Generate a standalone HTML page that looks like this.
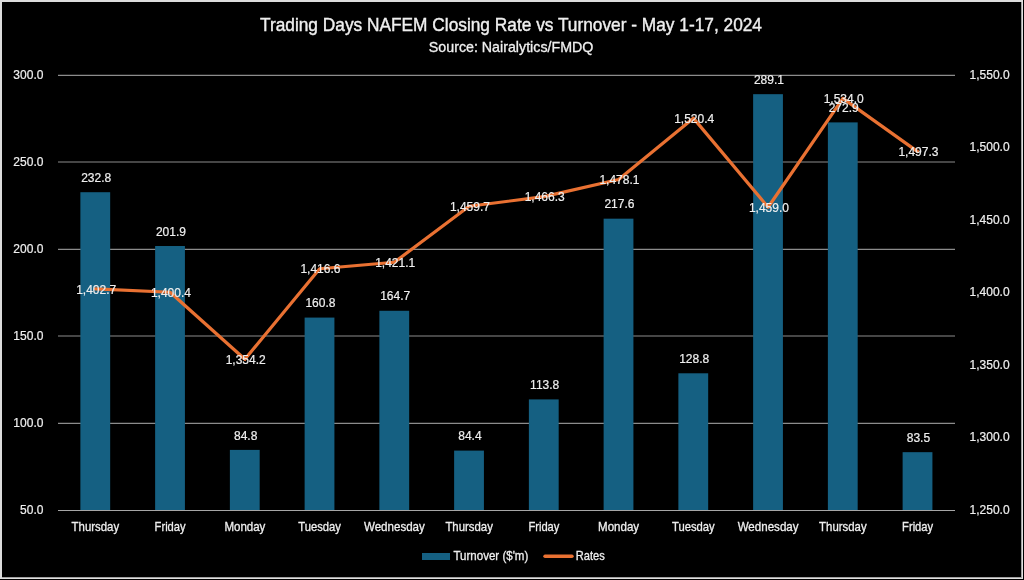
<!DOCTYPE html>
<html><head><meta charset="utf-8"><style>
html,body{margin:0;padding:0;background:#000;width:1024px;height:580px;overflow:hidden}
svg{display:block;will-change:transform;font-family:"Liberation Sans",sans-serif}
.ax{font-size:12px;fill:#efefef;stroke:#efefef;stroke-width:0.2px}
.dl{font-size:12px;fill:#efefef;stroke:#efefef;stroke-width:0.2px}
.cat{font-size:13px;fill:#efefef;stroke:#efefef;stroke-width:0.3px}
.leg{font-size:12.8px;fill:#efefef;stroke:#efefef;stroke-width:0.3px}
.title{font-size:19px;fill:#efefef;stroke:#efefef;stroke-width:0.4px}
.sub{font-size:14.2px;fill:#efefef;stroke:#efefef;stroke-width:0.3px}
</style></head><body>
<svg width="1024" height="580" viewBox="0 0 1024 580">
<rect x="0" y="0" width="1023" height="579" fill="#000"/>
<rect x="0" y="0" width="1023" height="2" fill="#dcdcdc"/>
<rect x="0" y="0" width="2" height="579" fill="#dcdcdc"/>
<rect x="1021" y="2" width="1" height="576" fill="#a0a0a0"/>
<rect x="1022" y="0" width="1" height="579" fill="#e0e0e0"/>
<rect x="2" y="577" width="1019" height="1" fill="#a0a0a0"/>
<rect x="0" y="578" width="1023" height="1" fill="#e0e0e0"/>
<line x1="58" y1="75.30" x2="955" y2="75.30" stroke="#8c8c8c" stroke-width="1.15"/>
<line x1="58" y1="162.00" x2="955" y2="162.00" stroke="#8c8c8c" stroke-width="1.15"/>
<line x1="58" y1="249.30" x2="955" y2="249.30" stroke="#8c8c8c" stroke-width="1.15"/>
<line x1="58" y1="336.00" x2="955" y2="336.00" stroke="#8c8c8c" stroke-width="1.15"/>
<line x1="58" y1="423.30" x2="955" y2="423.30" stroke="#8c8c8c" stroke-width="1.15"/>
<rect x="80.38" y="192.21" width="29.8" height="318.29" fill="#156082"/>
<rect x="155.12" y="246.01" width="29.8" height="264.49" fill="#156082"/>
<rect x="229.88" y="449.91" width="29.8" height="60.59" fill="#156082"/>
<rect x="304.62" y="317.58" width="29.8" height="192.92" fill="#156082"/>
<rect x="379.38" y="310.78" width="29.8" height="199.72" fill="#156082"/>
<rect x="454.12" y="450.60" width="29.8" height="59.90" fill="#156082"/>
<rect x="528.88" y="399.41" width="29.8" height="111.09" fill="#156082"/>
<rect x="603.62" y="218.67" width="29.8" height="291.83" fill="#156082"/>
<rect x="678.38" y="373.29" width="29.8" height="137.21" fill="#156082"/>
<rect x="753.12" y="94.18" width="29.8" height="416.32" fill="#156082"/>
<rect x="827.88" y="122.39" width="29.8" height="388.11" fill="#156082"/>
<rect x="902.62" y="452.17" width="29.8" height="58.33" fill="#156082"/>
<line x1="58" y1="510.5" x2="955" y2="510.5" stroke="#a6a6a6" stroke-width="1.1"/>
<polyline points="95.38,288.93 170.12,292.27 244.88,359.31 319.62,268.76 394.38,262.23 469.12,206.23 543.88,196.65 618.62,179.53 693.38,118.15 768.12,207.24 842.88,98.42 917.62,151.67" fill="none" stroke="#E97132" stroke-width="3.2" stroke-linejoin="round" stroke-linecap="round"/>
<text x="43.4" y="78.60" text-anchor="end" class="ax">300.0</text>
<text x="43.4" y="165.66" text-anchor="end" class="ax">250.0</text>
<text x="43.4" y="252.72" text-anchor="end" class="ax">200.0</text>
<text x="43.4" y="339.78" text-anchor="end" class="ax">150.0</text>
<text x="43.4" y="426.84" text-anchor="end" class="ax">100.0</text>
<text x="43.4" y="513.90" text-anchor="end" class="ax">50.0</text>
<text x="969.6" y="78.70" class="ax">1,550.0</text>
<text x="969.6" y="151.25" class="ax">1,500.0</text>
<text x="969.6" y="223.80" class="ax">1,450.0</text>
<text x="969.6" y="296.35" class="ax">1,400.0</text>
<text x="969.6" y="368.90" class="ax">1,350.0</text>
<text x="969.6" y="441.45" class="ax">1,300.0</text>
<text x="969.6" y="514.00" class="ax">1,250.0</text>
<text x="71.62" y="531" textLength="47.5" lengthAdjust="spacingAndGlyphs" class="cat">Thursday</text>
<text x="154.62" y="531" textLength="31" lengthAdjust="spacingAndGlyphs" class="cat">Friday</text>
<text x="224.38" y="531" textLength="41" lengthAdjust="spacingAndGlyphs" class="cat">Monday</text>
<text x="298.27" y="531" textLength="42.7" lengthAdjust="spacingAndGlyphs" class="cat">Tuesday</text>
<text x="363.93" y="531" textLength="60.9" lengthAdjust="spacingAndGlyphs" class="cat">Wednesday</text>
<text x="445.38" y="531" textLength="47.5" lengthAdjust="spacingAndGlyphs" class="cat">Thursday</text>
<text x="528.38" y="531" textLength="31" lengthAdjust="spacingAndGlyphs" class="cat">Friday</text>
<text x="598.12" y="531" textLength="41" lengthAdjust="spacingAndGlyphs" class="cat">Monday</text>
<text x="672.02" y="531" textLength="42.7" lengthAdjust="spacingAndGlyphs" class="cat">Tuesday</text>
<text x="737.67" y="531" textLength="60.9" lengthAdjust="spacingAndGlyphs" class="cat">Wednesday</text>
<text x="819.12" y="531" textLength="47.5" lengthAdjust="spacingAndGlyphs" class="cat">Thursday</text>
<text x="902.12" y="531" textLength="31" lengthAdjust="spacingAndGlyphs" class="cat">Friday</text>
<text x="96.17" y="181.81" text-anchor="middle" class="dl">232.8</text>
<text x="170.93" y="235.61" text-anchor="middle" class="dl">201.9</text>
<text x="245.68" y="439.51" text-anchor="middle" class="dl">84.8</text>
<text x="320.43" y="307.18" text-anchor="middle" class="dl">160.8</text>
<text x="395.18" y="300.38" text-anchor="middle" class="dl">164.7</text>
<text x="469.93" y="440.20" text-anchor="middle" class="dl">84.4</text>
<text x="544.67" y="389.01" text-anchor="middle" class="dl">113.8</text>
<text x="619.42" y="208.27" text-anchor="middle" class="dl">217.6</text>
<text x="694.17" y="362.89" text-anchor="middle" class="dl">128.8</text>
<text x="768.92" y="83.78" text-anchor="middle" class="dl">289.1</text>
<text x="843.67" y="111.99" text-anchor="middle" class="dl">272.9</text>
<text x="918.42" y="441.77" text-anchor="middle" class="dl">83.5</text>
<text x="96.17" y="293.63" text-anchor="middle" class="dl">1,402.7</text>
<text x="170.93" y="296.97" text-anchor="middle" class="dl">1,400.4</text>
<text x="245.68" y="364.01" text-anchor="middle" class="dl">1,354.2</text>
<text x="320.43" y="273.46" text-anchor="middle" class="dl">1,416.6</text>
<text x="395.18" y="266.93" text-anchor="middle" class="dl">1,421.1</text>
<text x="469.93" y="210.93" text-anchor="middle" class="dl">1,459.7</text>
<text x="544.67" y="201.35" text-anchor="middle" class="dl">1,466.3</text>
<text x="619.42" y="184.23" text-anchor="middle" class="dl">1,478.1</text>
<text x="694.17" y="122.85" text-anchor="middle" class="dl">1,520.4</text>
<text x="768.92" y="211.94" text-anchor="middle" class="dl">1,459.0</text>
<text x="843.67" y="103.12" text-anchor="middle" class="dl">1,534.0</text>
<text x="918.42" y="156.37" text-anchor="middle" class="dl">1,497.3</text>
<rect x="422" y="553" width="28" height="7" fill="#156082"/>
<text x="453.5" y="559.8" textLength="74.8" lengthAdjust="spacingAndGlyphs" class="leg">Turnover ($'m)</text>
<line x1="545" y1="556.3" x2="572" y2="556.3" stroke="#E97132" stroke-width="3.4" stroke-linecap="round"/>
<text x="575.8" y="559.7" textLength="29" lengthAdjust="spacingAndGlyphs" class="leg">Rates</text>
<text x="260" y="31.2" textLength="502" lengthAdjust="spacingAndGlyphs" class="title">Trading Days NAFEM Closing Rate vs Turnover - May 1-17, 2024</text>
<text x="428.8" y="51.9" textLength="164.6" lengthAdjust="spacingAndGlyphs" class="sub">Source: Nairalytics/FMDQ</text>
</svg>
</body></html>
